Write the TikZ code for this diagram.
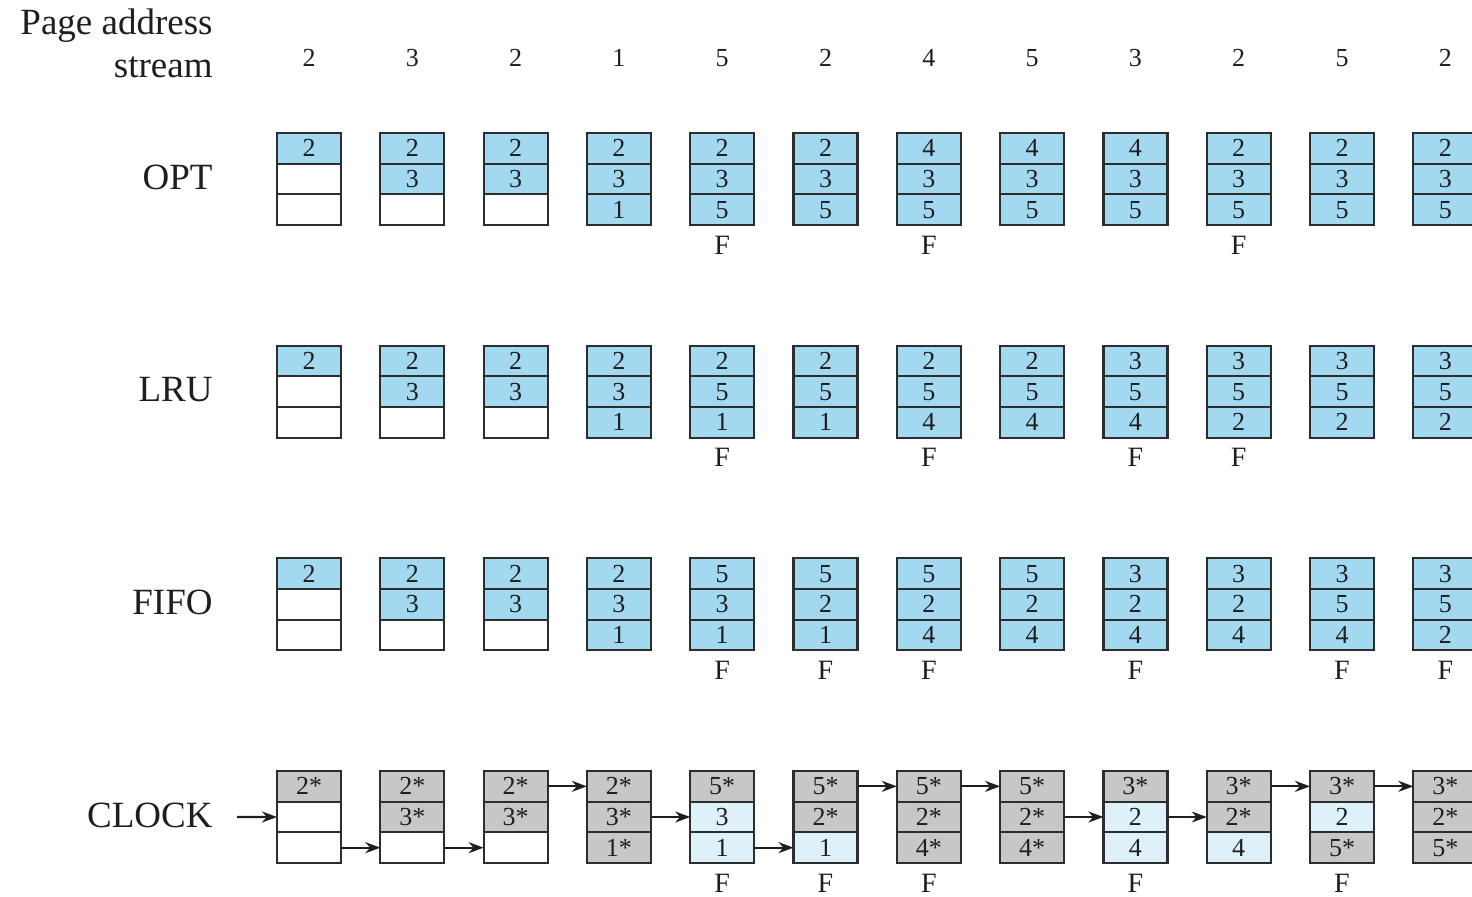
\documentclass[tikz,border=0pt]{standalone}
\usepackage{fontspec}
\setmainfont{Liberation Serif}
\usetikzlibrary{arrows.meta}
\definecolor{pblue}{RGB}{163,217,240}
\definecolor{pgray}{RGB}{199,199,199}
\definecolor{plight}{RGB}{222,240,249}
\definecolor{pborder}{RGB}{45,45,45}
\definecolor{ptext}{RGB}{30,30,30}
\tikzset{
  cellbox/.style={draw=pborder,line width=1.1pt,minimum width=32pt,minimum height=15.33pt,
    inner sep=0pt,outer sep=0pt,text=ptext,font=\fontsize{13}{14}\selectfont},
  streamnum/.style={inner sep=0pt,text=ptext,font=\fontsize{13}{14}\selectfont},
  flab/.style={inner sep=0pt,text=ptext,font=\fontsize{14}{15}\selectfont},
  rowlab/.style={inner sep=0pt,text=ptext,font=\fontsize{18.5}{20}\selectfont},
  clk/.style={draw=ptext,line width=1.1pt,-{Stealth[length=7.5pt,width=5.5pt]}},
}
\newcommand\pcol[8]{%
  \pgfmathsetmacro\cx{309+(#2-1)*103.3}%
  \pgfmathsetmacro\cy{133+(#1-1)*212.67}%
  \node[cellbox,fill=#3] (r#1c#2k1) at (\cx,\cy+15.33) {#4};
  \node[cellbox,fill=#5] (r#1c#2k2) at (\cx,\cy+46) {#6};
  \node[cellbox,fill=#7] (r#1c#2k3) at (\cx,\cy+76.67) {#8};
}
\newcommand\fm[2]{%
  \pgfmathsetmacro\cx{309+(#2-1)*103.3}%
  \pgfmathsetmacro\cy{133+(#1-1)*212.67}%
  \node[flab] (f#1c#2) at (\cx,\cy+112) {F};
}
\begin{document}
\begin{tikzpicture}[x=0.5pt,y=-0.5pt]
\useasboundingbox (0,0) rectangle (1472,897);
\fill[white] (0,0) rectangle (1472,897);
% labels
\node[rowlab,anchor=base east] (pa) at (213,35) {Page address};
\node[rowlab,anchor=base east] (st) at (213,78) {stream};
\node[rowlab,anchor=east] (lopt) at (213,177) {OPT};
\node[rowlab,anchor=east] (llru) at (213,390) {LRU};
\node[rowlab,anchor=east] (lfifo) at (213,602) {FIFO};
\node[rowlab,anchor=east] (lclock) at (213,815) {CLOCK};
% stream
\foreach \v [count=\i] in {2,3,2,1,5,2,4,5,3,2,5,2}
  \node[streamnum] (s\i) at ({309+(\i-1)*103.3},58) {\v};
% OPT
\pcol{1}{1}{pblue}{2}{white}{}{white}{}
\pcol{1}{2}{pblue}{2}{pblue}{3}{white}{}
\pcol{1}{3}{pblue}{2}{pblue}{3}{white}{}
\pcol{1}{4}{pblue}{2}{pblue}{3}{pblue}{1}
\pcol{1}{5}{pblue}{2}{pblue}{3}{pblue}{5}
\pcol{1}{6}{pblue}{2}{pblue}{3}{pblue}{5}
\pcol{1}{7}{pblue}{4}{pblue}{3}{pblue}{5}
\pcol{1}{8}{pblue}{4}{pblue}{3}{pblue}{5}
\pcol{1}{9}{pblue}{4}{pblue}{3}{pblue}{5}
\pcol{1}{10}{pblue}{2}{pblue}{3}{pblue}{5}
\pcol{1}{11}{pblue}{2}{pblue}{3}{pblue}{5}
\pcol{1}{12}{pblue}{2}{pblue}{3}{pblue}{5}
\fm{1}{5}\fm{1}{7}\fm{1}{10}
% LRU
\pcol{2}{1}{pblue}{2}{white}{}{white}{}
\pcol{2}{2}{pblue}{2}{pblue}{3}{white}{}
\pcol{2}{3}{pblue}{2}{pblue}{3}{white}{}
\pcol{2}{4}{pblue}{2}{pblue}{3}{pblue}{1}
\pcol{2}{5}{pblue}{2}{pblue}{5}{pblue}{1}
\pcol{2}{6}{pblue}{2}{pblue}{5}{pblue}{1}
\pcol{2}{7}{pblue}{2}{pblue}{5}{pblue}{4}
\pcol{2}{8}{pblue}{2}{pblue}{5}{pblue}{4}
\pcol{2}{9}{pblue}{3}{pblue}{5}{pblue}{4}
\pcol{2}{10}{pblue}{3}{pblue}{5}{pblue}{2}
\pcol{2}{11}{pblue}{3}{pblue}{5}{pblue}{2}
\pcol{2}{12}{pblue}{3}{pblue}{5}{pblue}{2}
\fm{2}{5}\fm{2}{7}\fm{2}{9}\fm{2}{10}
% FIFO
\pcol{3}{1}{pblue}{2}{white}{}{white}{}
\pcol{3}{2}{pblue}{2}{pblue}{3}{white}{}
\pcol{3}{3}{pblue}{2}{pblue}{3}{white}{}
\pcol{3}{4}{pblue}{2}{pblue}{3}{pblue}{1}
\pcol{3}{5}{pblue}{5}{pblue}{3}{pblue}{1}
\pcol{3}{6}{pblue}{5}{pblue}{2}{pblue}{1}
\pcol{3}{7}{pblue}{5}{pblue}{2}{pblue}{4}
\pcol{3}{8}{pblue}{5}{pblue}{2}{pblue}{4}
\pcol{3}{9}{pblue}{3}{pblue}{2}{pblue}{4}
\pcol{3}{10}{pblue}{3}{pblue}{2}{pblue}{4}
\pcol{3}{11}{pblue}{3}{pblue}{5}{pblue}{4}
\pcol{3}{12}{pblue}{3}{pblue}{5}{pblue}{2}
\fm{3}{5}\fm{3}{6}\fm{3}{7}\fm{3}{9}\fm{3}{11}\fm{3}{12}
% CLOCK
\pcol{4}{1}{pgray}{2*}{white}{}{white}{}
\pcol{4}{2}{pgray}{2*}{pgray}{3*}{white}{}
\pcol{4}{3}{pgray}{2*}{pgray}{3*}{white}{}
\pcol{4}{4}{pgray}{2*}{pgray}{3*}{pgray}{1*}
\pcol{4}{5}{pgray}{5*}{plight}{3}{plight}{1}
\pcol{4}{6}{pgray}{5*}{pgray}{2*}{plight}{1}
\pcol{4}{7}{pgray}{5*}{pgray}{2*}{pgray}{4*}
\pcol{4}{8}{pgray}{5*}{pgray}{2*}{pgray}{4*}
\pcol{4}{9}{pgray}{3*}{plight}{2}{plight}{4}
\pcol{4}{10}{pgray}{3*}{pgray}{2*}{plight}{4}
\pcol{4}{11}{pgray}{3*}{plight}{2}{pgray}{5*}
\pcol{4}{12}{pgray}{3*}{pgray}{2*}{pgray}{5*}
\fm{4}{5}\fm{4}{6}\fm{4}{7}\fm{4}{9}\fm{4}{11}
% clock pointer arrows
\coordinate (cin) at (237,817);
\draw[clk] (cin) -- (r4c1k2.west);
\draw[clk] (r4c1k3.east) -- (r4c2k3.west);
\draw[clk] (r4c2k3.east) -- (r4c3k3.west);
\draw[clk] (r4c3k1.east) -- (r4c4k1.west);
\draw[clk] (r4c4k2.east) -- (r4c5k2.west);
\draw[clk] (r4c5k3.east) -- (r4c6k3.west);
\draw[clk] (r4c6k1.east) -- (r4c7k1.west);
\draw[clk] (r4c7k1.east) -- (r4c8k1.west);
\draw[clk] (r4c8k2.east) -- (r4c9k2.west);
\draw[clk] (r4c9k2.east) -- (r4c10k2.west);
\draw[clk] (r4c10k1.east) -- (r4c11k1.west);
\draw[clk] (r4c11k1.east) -- (r4c12k1.west);
\end{tikzpicture}
\end{document}
